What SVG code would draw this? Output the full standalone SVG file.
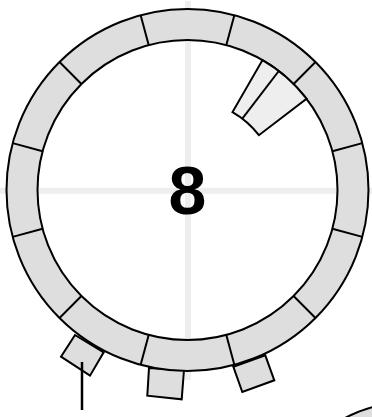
<svg xmlns="http://www.w3.org/2000/svg" width="372" height="417" viewBox="0 0 372 417">
<style>
.p{fill:#dedede;stroke:#000;stroke-width:2;stroke-linejoin:miter}
.w{fill:#eee;stroke:#000;stroke-width:2}
.l{fill:none;stroke:#000;stroke-width:2}
.g{fill:none;stroke:#eee;stroke-width:6}
text{font-family:"Liberation Sans",Arial,sans-serif;font-weight:700;font-size:68px;text-anchor:middle;fill:#000}
</style>
<g id="crosshair"><path class="g" d="M188 1V380M0 190.7H372"/></g>
<g id="tabs">
<path id="tab-1" class="p" d="M75 335L103.7 352.3L90 375.7L61 356.7Z"/>
<path id="tab-2" class="p" d="M149 368L147.3 395.7L181.7 399.3L184 370Z"/>
<path id="tab-3" class="p" d="M233.3 366.7L265.3 355.3L274.3 380.3L242.3 392Z"/>
</g>
<g id="ring">
<path class="p" fill-rule="evenodd" d="M6.5 190A181 181 0 1 1 368.5 190A181 181 0 1 1 6.5 190ZM37.5 190A150 150 0 1 0 337.5 190A150 150 0 1 0 37.5 190Z"/>
<path class="l" d="M140.65 15.17L148.68 45.11M59.51 62.01L81.43 83.93M12.67 143.15L42.61 151.18M12.67 236.85L42.61 228.82M59.51 317.99L81.43 296.07M140.65 364.83L148.68 334.89M234.35 364.83L226.32 334.89M315.49 317.99L293.57 296.07M362.33 236.85L332.39 228.82M362.33 143.15L332.39 151.18M315.49 62.01L293.57 83.93M234.35 15.17L226.32 45.11"/>
</g>
<g id="window">
<path class="w" d="M262.5 60.1A150 150 0 0 1 306.5 98.7L258.9 135.2A90 90 0 0 0 232.5 112.1Z"/>
<path class="l" d="M278.8 71L242.3 118.6"/>
</g>
<g id="pointer"><path class="l" stroke-width="2.5" d="M82 362V410" style="stroke-width:2.5"/></g>
<g id="corner"><path class="p" d="M345 418Q358 411 373 407V418Z"/></g>
<g id="label"><text x="187.5" y="214">8</text></g>
</svg>
